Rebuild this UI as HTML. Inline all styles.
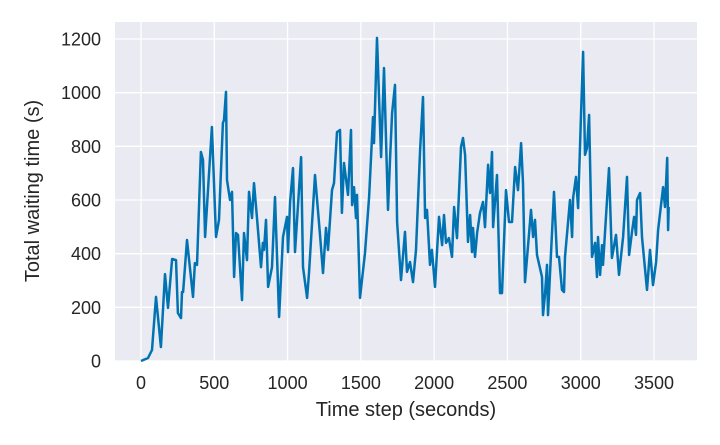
<!DOCTYPE html>
<html><head><meta charset="utf-8"><style>
html,body{margin:0;padding:0;background:#fff;width:720px;height:445px;overflow:hidden}
text{font-family:"Liberation Sans",sans-serif;fill:#262626}
</style></head><body>
<svg id="chart" width="720" height="445" xmlns="http://www.w3.org/2000/svg">
<rect x="115" y="22" width="582" height="339" fill="#EAEAF2"/>
<g id="grid"></g>
<g id="ticks"></g>
<path id="series" fill="none" stroke="#0173B2" stroke-width="2.5" stroke-linejoin="round"/>
<text x="406" y="416" font-size="20" text-anchor="middle">Time step (seconds)</text>
<text transform="translate(39,191) rotate(-90)" font-size="20" text-anchor="middle">Total waiting time (s)</text>
</svg>
<script>
const xTicks=[0,500,1000,1500,2000,2500,3000,3500];
const yTicks=[0,200,400,600,800,1000,1200];
const times=[0,48,75,102,136,164,184,212,239,252,273,280,287,314,355,368,382,409,423,437,484,512,532,559,566,580,587,607,621,635,648,662,689,703,723,737,757,771,791,819,832,839,853,867,894,914,942,969,996,1003,1017,1037,1051,1092,1105,1133,1146,1187,1221,1242,1262,1276,1303,1317,1337,1358,1371,1385,1412,1433,1440,1453,1467,1474,1494,1528,1556,1583,1590,1610,1638,1658,1685,1699,1713,1733,1747,1774,1801,1815,1835,1856,1876,1904,1924,1938,1951,1972,1985,2006,2033,2054,2067,2081,2101,2122,2136,2156,2183,2197,2211,2231,2245,2258,2265,2279,2293,2313,2333,2347,2368,2381,2395,2402,2429,2449,2463,2490,2511,2531,2552,2572,2593,2606,2620,2641,2661,2675,2688,2702,2736,2743,2757,2770,2777,2818,2838,2852,2872,2886,2893,2927,2941,2948,2968,2982,3002,3016,3029,3043,3057,3077,3098,3111,3118,3132,3145,3152,3193,3213,3241,3261,3289,3316,3330,3350,3364,3377,3384,3405,3418,3452,3473,3493,3514,3528,3562,3575,3590,3596,3600];
const waits=[0,11,41,239,52,324,198,380,376,179,160,257,257,451,239,365,358,779,749,462,872,462,526,887,898,1003,675,600,630,313,477,470,227,477,376,630,533,663,537,350,440,414,526,276,350,611,164,462,537,406,593,719,406,760,350,235,328,693,470,328,496,414,637,663,853,861,552,738,619,861,581,648,533,619,235,403,611,909,812,1204,760,1092,563,749,924,1029,518,302,481,332,369,294,414,786,984,533,563,358,414,276,537,432,544,440,458,388,574,458,798,831,768,444,544,406,496,388,477,552,593,499,731,626,779,499,693,253,253,637,518,518,723,637,812,663,294,432,563,462,526,395,313,171,253,358,171,630,388,388,265,257,388,600,462,607,686,570,917,1152,768,794,917,388,440,313,462,321,432,358,719,384,470,321,462,686,395,481,537,470,600,626,462,265,414,283,369,488,648,574,757,488,574];
const L=115,R=697,T=22,B=361;
const X=t=>141+t*513/3500;
const Y=v=>361-v*322/1200;
const NS="http://www.w3.org/2000/svg";
const grid=document.getElementById('grid'),ticks=document.getElementById('ticks');
xTicks.forEach(t=>{
 const l=document.createElementNS(NS,'line');
 l.setAttribute('x1',X(t));l.setAttribute('x2',X(t));l.setAttribute('y1',T);l.setAttribute('y2',B);
 l.setAttribute('stroke','#fff');l.setAttribute('stroke-width','1.3');
 
 
 grid.appendChild(l);
 const tx=document.createElementNS(NS,'text');
 tx.setAttribute('x',X(t));tx.setAttribute('y',389);tx.setAttribute('font-size','18');tx.setAttribute('text-anchor','middle');
 tx.textContent=t;
 
 
 ticks.appendChild(tx);
});
yTicks.forEach(v=>{
 const l=document.createElementNS(NS,'line');
 l.setAttribute('x1',L);l.setAttribute('x2',R);l.setAttribute('y1',Y(v));l.setAttribute('y2',Y(v));
 l.setAttribute('stroke','#fff');l.setAttribute('stroke-width','1.3');
 
 
 grid.appendChild(l);
 const tx=document.createElementNS(NS,'text');
 tx.setAttribute('x',101);tx.setAttribute('y',Y(v)+6.5);tx.setAttribute('font-size','18');tx.setAttribute('text-anchor','end');
 tx.textContent=v;
 
 
 ticks.appendChild(tx);
});
document.getElementById('series').setAttribute('d',times.map((t,i)=>(i?'L':'M')+X(t).toFixed(1)+','+Y(waits[i]).toFixed(1)).join(''));
</script>
</body></html>
